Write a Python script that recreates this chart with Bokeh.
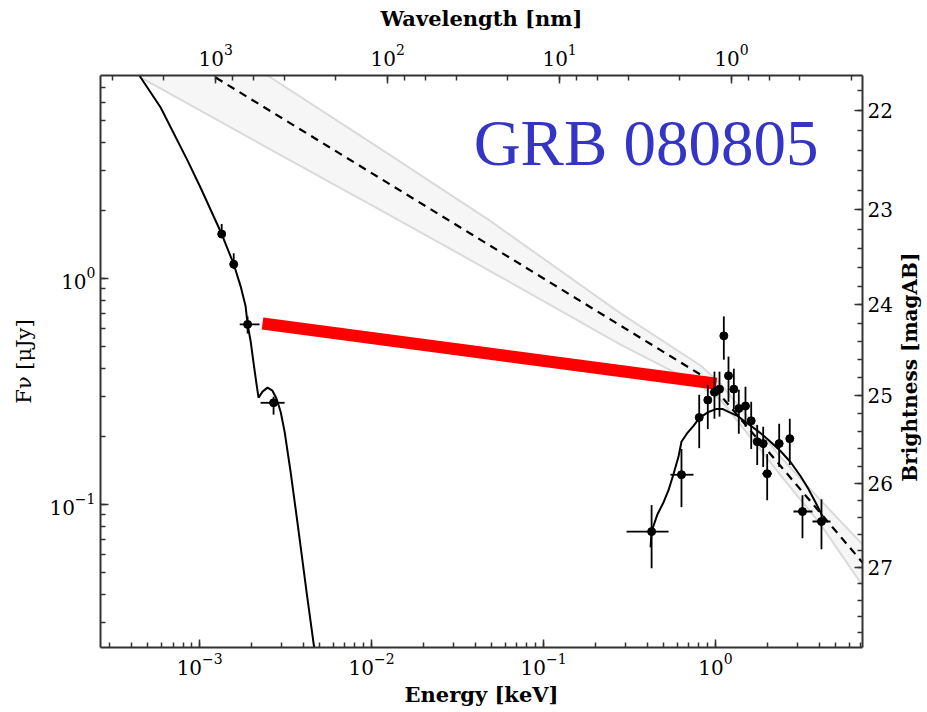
import numpy as np
from bokeh.plotting import figure
from bokeh.layouts import row
from bokeh.models import (Range1d, LogAxis, LinearAxis, LogScale, Label,
                          SingleIntervalTicker, ColumnDataSource)
from bokeh.core.properties import value
from bokeh.embed import file_html
from bokeh.resources import INLINE

# ---------------- data (energy in keV, flux density in microJy) ----------------
# optical / NIR photometry
opt_E = [1.343e-3, 1.578e-3, 1.90e-3, 2.69e-3]
opt_E_lo = [1.28e-3, 1.52e-3, 1.71e-3, 2.26e-3]
opt_E_hi = [1.41e-3, 1.64e-3, 2.23e-3, 3.12e-3]
opt_F = [1.57, 1.154, 0.625, 0.281]
opt_F_lo = [1.51, 1.10, 0.570, 0.249]
opt_F_hi = [1.74, 1.29, 0.678, 0.299]

# X-ray spectrum
xr_E = [0.425, 0.634, 0.804, 0.902, 0.986, 1.055, 1.118, 1.190, 1.278, 1.366,
        1.494, 1.613, 1.748, 1.894, 1.998, 2.346, 2.704, 3.205, 4.133]
xr_E_lo = [0.304, 0.547, 0.772, 0.866, 0.947, 1.013, 1.074, 1.143, 1.228, 1.312,
           1.435, 1.549, 1.679, 1.819, 1.870, 2.254, 2.597, 2.842, 3.664]
xr_E_hi = [0.533, 0.745, 0.838, 0.939, 1.026, 1.098, 1.164, 1.239, 1.330, 1.422,
           1.555, 1.679, 1.820, 1.972, 2.130, 2.442, 2.815, 3.664, 4.663]
xr_F = [0.0756, 0.135, 0.242, 0.289, 0.313, 0.323, 0.556, 0.370, 0.323, 0.265,
        0.272, 0.234, 0.189, 0.1854, 0.1364, 0.1854, 0.195, 0.0928, 0.0838]
xr_F_lo = [0.0520, 0.097, 0.177, 0.215, 0.239, 0.244, 0.436, 0.284, 0.264, 0.205,
           0.220, 0.1755, 0.149, 0.146, 0.1042, 0.146, 0.149, 0.0706, 0.0631]
xr_F_hi = [0.0990, 0.1755, 0.305, 0.338, 0.386, 0.386, 0.678, 0.450, 0.398, 0.321,
           0.331, 0.284, 0.2244, 0.220, 0.1668, 0.227, 0.239, 0.1096, 0.1052]

# optical model (host-extinguished afterglow)
optmod_E = [4.07e-4, 4.54e-4, 5.93e-4, 8.52e-4, 1.014e-3, 1.343e-3, 1.578e-3, 1.731e-3,
            1.85e-3, 1.90e-3, 1.98e-3, 2.06e-3, 2.14e-3, 2.20e-3, 2.32e-3, 2.48e-3,
            2.65e-3, 2.80e-3, 2.96e-3, 3.12e-3, 3.38e-3, 3.77e-3, 4.19e-3, 4.72e-3]
optmod_F = [9.2, 7.74, 5.70, 3.31, 2.51, 1.57, 1.154, 0.921,
            0.751, 0.625, 0.525, 0.419, 0.341, 0.296, 0.315, 0.328,
            0.318, 0.293, 0.256, 0.209, 0.139, 0.0751, 0.0406, 0.0209]

# X-ray model (absorbed)
xrmod_E = [0.419, 0.425, 0.460, 0.499, 0.533, 0.570, 0.609, 0.634, 0.687, 0.745,
           0.807, 0.911, 1.013, 1.098, 1.190, 1.342, 1.494, 1.663, 1.876, 2.088,
           2.387, 2.729, 3.120, 3.473, 3.814, 4.189]
xrmod_F = [0.0644, 0.0759, 0.0903, 0.102, 0.1153, 0.136, 0.162, 0.189, 0.207, 0.222,
           0.241, 0.256, 0.264, 0.264, 0.256, 0.246, 0.231, 0.218, 0.203, 0.189,
           0.172, 0.1537, 0.1332, 0.1166, 0.102, 0.0885]

# unabsorbed broken power law (dashed)
pl_E = [1.239e-3, 0.875, 7.157]
pl_F = [7.74, 0.363, 0.0552]

# uncertainty band of the power law
band_E = [3.97e-4, 2.48e-3, 1.128e-2, 4.92e-2, 0.2805, 0.818, 1.069, 2.387, 4.078, 7.157]
band_hi = [19.8, 7.90, 3.74, 1.79, 0.699, 0.411, 0.3414, 0.162, 0.1042, 0.0664]
band_lo = [8.19, 3.78, 2.005, 1.074, 0.509, 0.3346, 0.290, 0.1345, 0.0815, 0.0437]

# optical-to-X-ray slope (red)
ox_E = [2.32e-3, 1.013]
ox_F = [0.631, 0.341]

# axis ranges
E_MIN, E_MAX = 2.65e-4, 7.16
F_MIN, F_MAX = 0.0232, 7.9
HC = 1.23984  # keV * nm
AB_ZP = 23.9  # AB mag of 1 microJy

FONT = "DejaVu Serif"
W_SIDE = 32

p = figure(width=927 - W_SIDE, height=712, x_axis_type="log", y_axis_type="log",
           x_range=Range1d(E_MIN, E_MAX), y_range=Range1d(F_MIN, F_MAX),
           output_backend="svg", toolbar_location=None,
           min_border_left=100, min_border_right=33, min_border_top=75, min_border_bottom=65,
           background_fill_color="white", border_fill_color="white")
p.outline_line_color = None
p.grid.visible = False

p.xaxis.axis_label = "Energy [keV]"
p.yaxis.axis_label = "F\u03bd [\u03bcJy]"

p.extra_x_ranges = {"wl": Range1d(start=HC / E_MIN, end=HC / E_MAX)}
p.extra_x_scales = {"wl": LogScale()}
top_ax = LogAxis(x_range_name="wl", axis_label="Wavelength [nm]")
p.add_layout(top_ax, "above")

p.extra_y_ranges = {"mag": Range1d(start=AB_ZP - 2.5 * np.log10(F_MIN),
                                   end=AB_ZP - 2.5 * np.log10(F_MAX))}
right_ax = LinearAxis(y_range_name="mag",
                      ticker=SingleIntervalTicker(interval=1, num_minor_ticks=5))
p.add_layout(right_ax, "right")

for ax in p.axis:
    ax.axis_line_color = "#333333"
    ax.axis_line_width = 2
    ax.major_tick_in = 8
    ax.major_tick_out = 0
    ax.minor_tick_in = 5
    ax.minor_tick_out = 0
    ax.major_tick_line_color = "#333333"
    ax.minor_tick_line_color = "#333333"
    ax.major_tick_line_width = 1.5
    ax.minor_tick_line_width = 1.5
    ax.major_label_text_font = FONT
    ax.major_label_text_font_size = "20px"
    ax.major_label_text_color = "black"
    ax.major_label_standoff = 5
    ax.axis_label_text_font = FONT
    ax.axis_label_text_font_size = "21px"
    ax.axis_label_text_font_style = "bold"
    ax.axis_label_text_color = "black"
    ax.axis_label_standoff = 4

p.xaxis[0].major_label_standoff = 2
p.xaxis[0].axis_label_standoff = 2
top_ax.major_label_standoff = 10
top_ax.axis_label_standoff = 10
p.yaxis[0].axis_label_text_font_style = "normal"
p.yaxis[0].axis_label_text_color = "black"
p.yaxis[0].axis_label_standoff = 10
right_ax.major_label_standoff = 5

# band
p.varea(x=band_E, y1=band_lo, y2=band_hi, fill_color="#f6f6f6")
p.line(band_E, band_hi, line_color="#dadada", line_width=2)
p.line(band_E, band_lo, line_color="#dadada", line_width=2)

# dashed power law
p.line(pl_E, pl_F, line_color="black", line_width=2.2, line_dash="8 6")

# models
p.line(optmod_E, optmod_F, line_color="black", line_width=2)
p.line(xrmod_E, xrmod_F, line_color="black", line_width=2)

# red line
p.line(ox_E, ox_F, line_color="#ff0000", line_width=12, line_cap="butt")

# error bars and points
for E, Elo, Ehi, F, Flo, Fhi in [(opt_E, opt_E_lo, opt_E_hi, opt_F, opt_F_lo, opt_F_hi),
                                 (xr_E, xr_E_lo, xr_E_hi, xr_F, xr_F_lo, xr_F_hi)]:
    src = ColumnDataSource(dict(E=E, Elo=Elo, Ehi=Ehi, F=F, Flo=Flo, Fhi=Fhi))
    p.segment(x0="Elo", y0="F", x1="Ehi", y1="F", source=src, line_color="black", line_width=1.8)
    p.segment(x0="E", y0="Flo", x1="E", y1="Fhi", source=src, line_color="black", line_width=1.8)
    p.scatter(x="E", y="F", source=src, size=8, color="black")

p.add_layout(Label(x=0.0392, y=3.98, text="GRB 080805", text_font="Liberation Serif",
                   text_font_size="65px", text_color="#3535c5", text_baseline="alphabetic"))

# narrow strip holding the right-hand axis title (reads bottom to top)
side = figure(width=W_SIDE, height=712, x_range=Range1d(0, 1), y_range=Range1d(0, 712),
              output_backend="svg", toolbar_location=None, min_border=0,
              x_axis_type=None, y_axis_type=None, background_fill_color="white",
              border_fill_color="white")
side.outline_line_color = None
side.grid.visible = False
side.text(x=[0.45], y=[712 - 363], text=["Brightness [magAB]"], angle=np.pi / 2,
          text_font=value(FONT), text_font_size="20px", text_font_style="bold",
          text_color="black", text_align="center", text_baseline="middle")

layout = row(p, side, spacing=0)
open("out.html", "w").write(file_html(layout, INLINE))
